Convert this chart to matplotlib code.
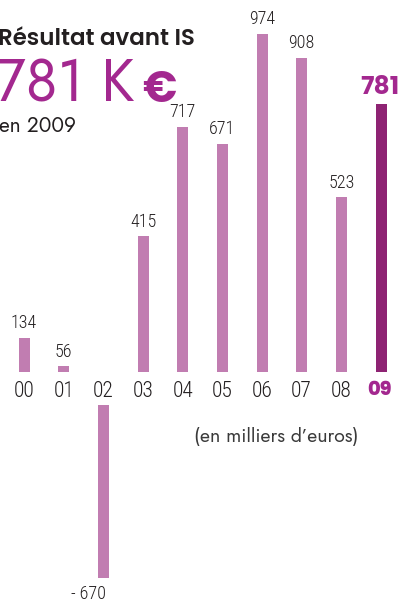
import matplotlib as mpl
mpl.use('Agg')
import matplotlib.pyplot as plt
import numpy as np

years = ['00', '01', '02', '03', '04', '05', '06', '07', '08', '09']
values = [134, 56, -670, 415, 717, 671, 974, 908, 523, 781]
title = 'Résultat avant IS'
headline = '781 K'
subtitle = 'en 2009'
unit_note = '(en milliers d\u2019euros)'

light = '#c17db1'
dark = '#8e2373'
accent = '#a3288f'
ink = '#231f20'
narrow = ['Roboto Condensed', 'DejaVu Sans']
geo = ['Jost', 'DejaVu Sans']
heavy = ['Poppins', 'DejaVu Sans']

W, H = 399, 602
fig = plt.figure(figsize=(W / 100, H / 100), dpi=100)

x = np.arange(len(years))
vals = np.array(values)
# x range so that bar 00 sits at 24 px and bar 09 at 381 px
step = (381 - 24) / 9
xlim = (-24 / step, (W - 24) / step)
bw = 11 / step

# upper axes: positive bars, baseline at 372 px from top
base = 372
ax = fig.add_axes([0, (H - base) / H, 1, base / H])
floor = 40
scale = (base - 34) / (974 - floor)
ax.set_xlim(*xlim)
ax.set_ylim(floor, floor + base / scale)
ax.axis('off')
pos = np.where(vals > 0, vals, 0)
colors = [light] * (len(years) - 1) + [dark]
ax.bar(x, pos, width=bw, color=colors, bottom=0)

for i, v in enumerate(values):
    if v <= 0:
        continue
    if i == len(years) - 1:
        ax.annotate(str(v), (x[i], v), xytext=(-1, 2), textcoords='offset points',
                    ha='center', va='bottom', fontsize=18, fontweight='bold',
                    color=accent, family=heavy, annotation_clip=False)
    else:
        ax.annotate(str(v), (x[i], v), xytext=(0, 4), textcoords='offset points',
                    ha='center', va='bottom', fontsize=13, fontweight='light',
                    color=ink, family=narrow)

# year labels under the baseline
for i, yr in enumerate(years):
    if i == len(years) - 1:
        ax.annotate(yr, (x[i], floor), xytext=(-1, -6.5), textcoords='offset points',
                    ha='center', va='top', fontsize=14, fontweight='heavy',
                    color=accent, family=heavy, annotation_clip=False)
    else:
        ax.annotate(yr, (x[i], floor), xytext=(0, -6.5), textcoords='offset points',
                    ha='center', va='top', fontsize=15.5, fontweight='light',
                    color=ink, family=narrow, annotation_clip=False)

# lower axes: negative bar, drawn below the year labels
top2 = 405
ax2 = fig.add_axes([0, 0, 1, (H - top2) / H])
neg = np.where(vals < 0, vals, 0)
ax2.set_xlim(*xlim)
ax2.set_ylim(-670 * (H - top2) / (578 - top2), 0)
ax2.axis('off')
ax2.bar(x, neg, width=bw, color=light)
for i, v in enumerate(values):
    if v < 0:
        ax2.annotate('- %d' % abs(v), (x[i], v), xytext=(-11, -5), textcoords='offset points',
                     ha='center', va='top', fontsize=13, fontweight='light', color=ink,
                     family=narrow)

fig.text(-0.005, (H - 45) / H, title, fontsize=16.5, fontweight='semibold', color=ink,
         family=heavy, va='baseline', ha='left')
fig.text(-0.012, (H - 102) / H, headline, fontsize=42, fontweight='light', color=accent,
         family=geo, va='baseline', ha='left')
fig.text(142 / W, (H - 102) / H, '\u20ac', fontsize=31, fontweight='bold', color=accent,
         family=heavy, va='baseline', ha='left')
fig.text(-0.002, (H - 132) / H, subtitle, fontsize=15, color=ink,
         family=geo, va='baseline', ha='left')
fig.text(276 / W, (H - 437) / H, unit_note, fontsize=14, color='#3a3a3a',
         family=geo, va='center', ha='center')

fig.savefig('out.png', dpi=100)
